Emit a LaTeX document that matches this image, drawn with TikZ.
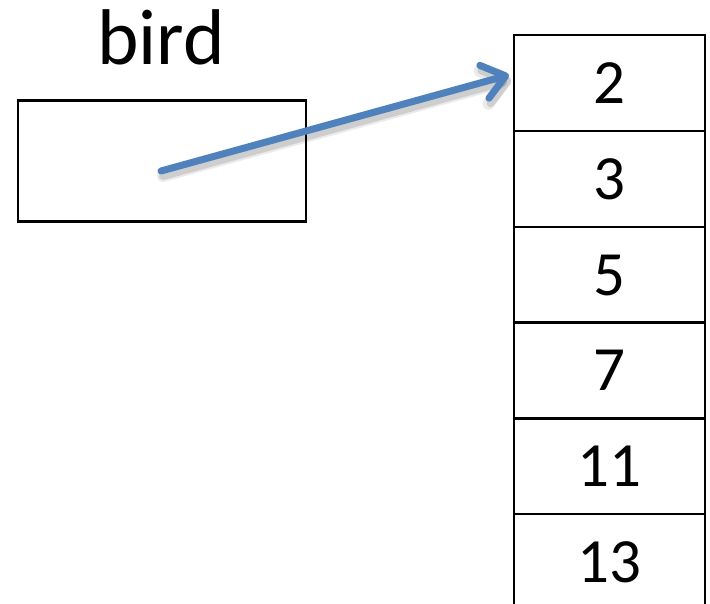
\documentclass[tikz,border=0pt]{standalone}
\usepackage{fontspec}
\setmainfont{Carlito}
\usetikzlibrary{arrows.meta}
\definecolor{arrowblue}{HTML}{4F81BD}
\tikzset{
  cell/.style={draw=black, line width=2.4pt, minimum width=191pt, minimum height=96pt,
    inner sep=0pt, anchor=north west, font=\fontsize{63}{63}\selectfont},
  varbox/.style={draw=black, line width=2.4pt, minimum width=288pt, minimum height=121pt,
    inner sep=0pt, anchor=north west},
  label/.style={font=\fontsize{79}{79}\selectfont, inner sep=0pt, anchor=base},
  pointer/.style={arrowblue, line width=7pt, line cap=round, line join=round,
    -{Straight Barb[length=22pt, width=34pt, line cap=round, line join=round]}},
  pshadow/.style={black, line cap=round, line join=round,
    -{Straight Barb[length=22pt, width=34pt, line cap=round, line join=round]}}
}
\begin{document}
\begin{tikzpicture}[x=1pt, y=-1pt]
\useasboundingbox (0,0) rectangle (710,604);
\fill[white] (0,0) rectangle (710,604);
\node[label] (name) at (161,65) {bird};
\node[varbox] (box) at (17,99.5) {};
\node[cell] (c1) at (513,34) {2};
\node[cell] (c2) at (513,130) {3};
\node[cell] (c3) at (513,226) {5};
\node[cell] (c4) at (513,321.5) {7};
\node[cell] (c5) at (513,417) {11};
\node[cell] (c6) at (513,513) {13};
\coordinate (start) at (161,171);
\coordinate (tip) at (509,75);
\coordinate (sstart) at (163,176);
\coordinate (stip) at (511,80);
\draw[pshadow, opacity=0.08, line width=12pt] (sstart) -- (stip);
\draw[pshadow, opacity=0.12, line width=8pt] (sstart) -- (stip);
\draw[pointer] (start) -- (tip);
\end{tikzpicture}
\end{document}
